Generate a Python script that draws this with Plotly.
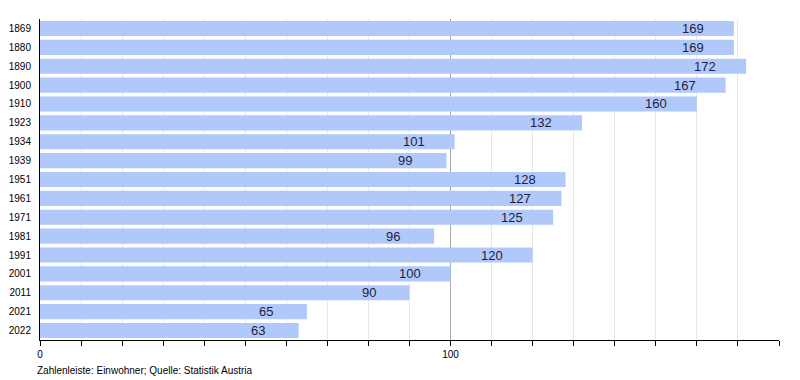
import plotly.graph_objects as go

years = ["1869", "1880", "1890", "1900", "1910", "1923", "1934", "1939", "1951",
         "1961", "1971", "1981", "1991", "2001", "2011", "2021", "2022"]
population = [169, 169, 172, 167, 160, 132, 101, 99, 128, 127, 125, 96, 120, 100, 90, 65, 63]
x_tick_vals = [0, 100]
x_tick_text = ["0", "100"]
footer = "Zahlenleiste: Einwohner; Quelle: Statistik Austria"

FONT = "Liberation Sans, Arial, sans-serif"
pos = list(range(len(years)))

fig = go.Figure()
fig.add_trace(go.Bar(
    x=population, y=pos, orientation="h",
    marker=dict(color="#b1c8fa", line=dict(width=0)),
    customdata=years, hovertemplate="%{customdata}: %{x}<extra></extra>",
))

for p, v in zip(pos, population):
    fig.add_annotation(
        x=v, y=p, xref="x", yref="y", text=str(v), showarrow=False,
        xanchor="center", yanchor="middle", xshift=-41,
        font=dict(family=FONT, size=13, color="#1e1e3c"),
    )

fig.add_annotation(
    x=0, y=0, xref="paper", yref="paper", xshift=-5, yshift=-23,
    xanchor="left", yanchor="top", showarrow=False, text=footer,
    font=dict(family=FONT, size=10, color="#000000"),
)

fig.update_layout(
    width=800, height=380,
    margin=dict(l=40, r=21, t=19, b=40, autoexpand=False),
    paper_bgcolor="white", plot_bgcolor="white",
    bargap=0.2, showlegend=False,
    font=dict(family=FONT, size=10, color="#000000"),
)
fig.update_xaxes(
    range=[0, 180], tickvals=x_tick_vals, ticktext=x_tick_text,
    showgrid=True, gridcolor="#a8a8a8", gridwidth=1,
    ticks="outside", ticklen=5, tickcolor="#000000",
    showline=True, linecolor="#000000", linewidth=1,
    zeroline=False, fixedrange=True, automargin=False,
    tickfont=dict(family=FONT, size=10, color="#000000"),
    minor=dict(dtick=10, tick0=0, showgrid=True, gridcolor="#e8e8e8", gridwidth=1,
               ticks="outside", ticklen=5, tickcolor="#000000"),
)
fig.update_yaxes(
    range=[len(years) - 0.5, -0.5],
    tickvals=pos, ticktext=years,
    showline=True, linecolor="#000000", linewidth=1,
    ticks="", showgrid=False, zeroline=False, ticklabelstandoff=6,
    automargin=False, fixedrange=True,
    tickfont=dict(family=FONT, size=10, color="#000000"),
)

fig.write_html(
    "out.html",
    config={"displayModeBar": False},
    post_script="document.body.style.margin='0';document.body.style.overflow='hidden';",
)
